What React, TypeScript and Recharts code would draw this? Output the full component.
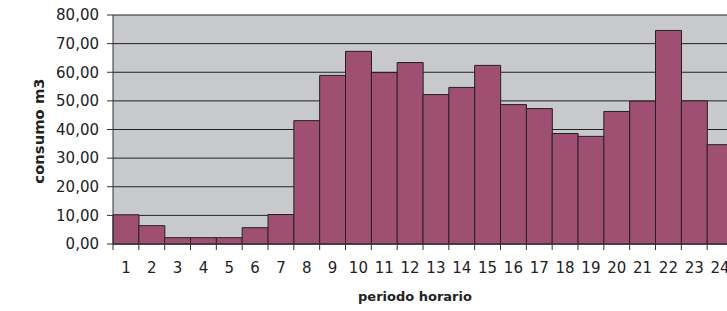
import React from "react";
import { BarChart, Bar, XAxis, YAxis, CartesianGrid, Label } from "recharts";

const periods = ["1", "2", "3", "4", "5", "6", "7", "8", "9", "10", "11", "12", "13", "14", "15", "16", "17", "18", "19", "20", "21", "22", "23", "24"];
const consumo = [10.2, 6.4, 2.2, 2.2, 2.2, 5.7, 10.3, 43.1, 58.9, 67.3, 59.9, 63.4, 52.2, 54.7, 62.4, 48.7, 47.3, 38.6, 37.6, 46.3, 49.9, 74.6, 50.0, 34.7];
const yTicks = [0, 10, 20, 30, 40, 50, 60, 70, 80];

const CHART_W = 733;
const CHART_H = 311;
const AXIS_W = 113;
const BAND = (CHART_W - AXIS_W) / periods.length;
const FONT = "'DejaVu Sans', sans-serif";
const TEXT = "#222";

const data = periods.map((p, i) => ({ periodo: p, consumo: consumo[i] }));

// tick marks sit between categories, labels at the centre
function PeriodTick(props: any) {
  const { x, y, payload } = props;
  const left = x - BAND / 2;
  return (
    <g>
      <line x1={left} y1={y} x2={left} y2={y + 6} stroke="#333" />
      <text x={x} y={y + 29} textAnchor="middle" fontFamily={FONT} fontSize={15} fill={TEXT}>
        {payload.value}
      </text>
    </g>
  );
}

export default function App() {
  return (
    <div style={{ position: "absolute", left: 0, top: 0, width: 727, height: 311, overflow: "hidden", background: "#fff" }}>
      <BarChart
        width={CHART_W}
        height={CHART_H}
        data={data}
        margin={{ top: 15, right: 0, bottom: 0, left: 0 }}
        barCategoryGap={0}
        barGap={0}
      >
        <CartesianGrid vertical={false} stroke="#222" fill="#c8c9cd" fillOpacity={1} />
        <XAxis
          dataKey="periodo"
          height={67}
          interval={0}
          tickLine={false}
          tickSize={0}
          tickMargin={0}
          axisLine={{ stroke: "#333" }}
          tick={<PeriodTick />}
        >
          <Label
            content={() => (
              <text x={415} y={296} textAnchor="middle" dominantBaseline="central" fontFamily={FONT} fontWeight="bold" fontSize={13} fill={TEXT}>
                periodo horario
              </text>
            )}
          />
        </XAxis>
        <YAxis
          width={AXIS_W}
          domain={[0, 80]}
          ticks={yTicks}
          interval={0}
          tickSize={6}
          tickMargin={8}
          axisLine={{ stroke: "#333" }}
          tickLine={{ stroke: "#333" }}
          tick={{ fontFamily: FONT, fontSize: 15, fill: TEXT }}
          tickFormatter={(v: number) => v.toFixed(2).replace(".", ",")}
        >
          <Label
            content={() => (
              <text x={38} y={131} transform="rotate(-90 38 131)" textAnchor="middle" dominantBaseline="central" fontFamily={FONT} fontWeight="bold" fontSize={14.8} fill={TEXT}>
                consumo m3
              </text>
            )}
          />
        </YAxis>
        <Bar dataKey="consumo" fill="#9e4f72" stroke="#222" strokeWidth={1} isAnimationActive={false} />
      </BarChart>
    </div>
  );
}
